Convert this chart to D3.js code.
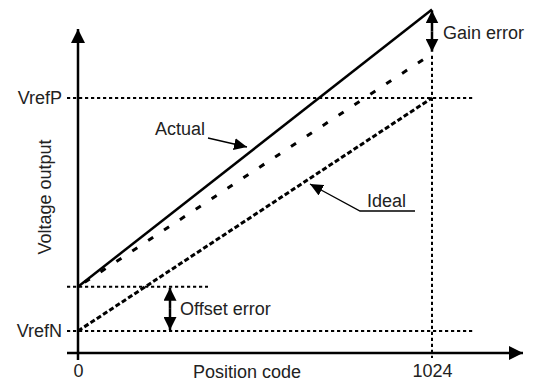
<!DOCTYPE html>
<html>
<head>
<meta charset="utf-8">
<script src="https://cdn.jsdelivr.net/npm/d3@7"></script>
<style>
  body { margin: 0; background: #fff; }
  svg text { font-family: "Liberation Sans", Arial, sans-serif; fill: #222; }
</style>
</head>
<body>
<div id="chart"></div>
<script>
// chart values
var codes = [0, 1024];
var idealLine = [0, 1];          // VrefN .. VrefP
var offsetLine = [0.19, 1.19];   // ideal shifted by offset
var actualLine = [0.19, 1.38];   // offset + gain error
var refLevels = ["VrefN", "VrefP"];
var xTickLabels = ["0", "1024"];

var width = 535, height = 385;

var svg = d3.select("#chart").append("svg")
  .attr("width", width)
  .attr("height", height);

var x = d3.scaleLinear().domain([0, 1024]).range([78, 432]);
var y = d3.scaleLinear().domain([0, 1]).range([331, 98]);

var axisY = y(0) + 22;   // x axis sits a bit below VrefN

var defs = svg.append("defs");
function marker(id, len, wid) {
  defs.append("marker")
    .attr("id", id)
    .attr("markerUnits", "userSpaceOnUse")
    .attr("viewBox", "0 0 " + len + " " + wid)
    .attr("refX", len).attr("refY", wid / 2)
    .attr("markerWidth", len).attr("markerHeight", wid)
    .attr("orient", "auto-start-reverse")
    .append("path")
    .attr("d", "M0,0L" + len + "," + (wid / 2) + "L0," + wid + "Z")
    .attr("fill", "#000");
}
marker("axisHead", 14, 14);
marker("dimHead", 13, 13);
marker("noteHead", 13, 12);

// dotted reference lines
var dotted = svg.append("g").attr("class", "ref-lines")
  .attr("stroke", "#000").attr("stroke-width", 2).attr("stroke-dasharray", "3.2,2.8");

dotted.selectAll(".ref").data(idealLine)
  .enter().append("line")
  .attr("x1", 67).attr("x2", 475)
  .attr("y1", function (d) { return y(d); })
  .attr("y2", function (d) { return y(d); });

dotted.append("line")
  .attr("x1", 67).attr("x2", 208)
  .attr("y1", y(offsetLine[0])).attr("y2", y(offsetLine[0]));

dotted.append("line")
  .attr("x1", x(1024)).attr("x2", x(1024))
  .attr("y1", y(offsetLine[1]) + 2).attr("y2", axisY + 5);

// axes drawn as arrows
svg.append("line")
  .attr("x1", x(0)).attr("x2", x(0))
  .attr("y1", axisY + 7).attr("y2", 29)
  .attr("stroke", "#000").attr("stroke-width", 2.5)
  .attr("marker-end", "url(#axisHead)");

svg.append("line")
  .attr("x1", 67).attr("x2", 523)
  .attr("y1", axisY).attr("y2", axisY)
  .attr("stroke", "#000").attr("stroke-width", 2.5)
  .attr("marker-end", "url(#axisHead)");

var xAxis = d3.axisBottom(x)
  .tickValues(codes)
  .tickFormat(function (d, i) { return xTickLabels[i]; })
  .tickSize(0).tickPadding(11);

var gx = svg.append("g")
  .attr("transform", "translate(0," + axisY + ")")
  .call(xAxis);
gx.select(".domain").remove();
gx.selectAll("text")
  .style("font-family", "Liberation Sans, Arial, sans-serif")
  .style("font-size", "18px").attr("fill", "#222");

var yAxis = d3.axisLeft(y)
  .tickValues(idealLine)
  .tickFormat(function (d, i) { return refLevels[i]; })
  .tickSize(0).tickPadding(16);

var gy = svg.append("g")
  .attr("transform", "translate(" + x(0) + ",0)")
  .call(yAxis);
gy.select(".domain").remove();
gy.selectAll("text")
  .style("font-family", "Liberation Sans, Arial, sans-serif")
  .style("font-size", "18px").attr("fill", "#222");

// transfer lines
function pts(vals) {
  return codes.map(function (c, i) { return [c, vals[i]]; });
}
var line = d3.line()
  .x(function (d) { return x(d[0]); })
  .y(function (d) { return y(d[1]); });

svg.append("path").datum(pts(idealLine))
  .attr("d", line).attr("fill", "none")
  .attr("stroke", "#000").attr("stroke-width", 3)
  .attr("stroke-dasharray", "5,2.5");

svg.append("path").datum(pts(offsetLine))
  .attr("d", line).attr("fill", "none")
  .attr("stroke", "#000").attr("stroke-width", 3)
  .attr("stroke-dasharray", "6,13")
  .attr("stroke-dashoffset", -8);

svg.append("path").datum(pts(actualLine))
  .attr("d", line).attr("fill", "none")
  .attr("stroke", "#000").attr("stroke-width", 2.5);

// gain error arrow
var gx1 = x(1024);
var dim = svg.append("g").attr("stroke", "#000").attr("stroke-width", 2.5);
dim.append("line")
  .attr("x1", gx1).attr("x2", gx1)
  .attr("y1", (y(actualLine[1]) + y(offsetLine[1])) / 2)
  .attr("y2", y(actualLine[1]) + 1)
  .attr("marker-end", "url(#dimHead)");
dim.append("line")
  .attr("x1", gx1).attr("x2", gx1)
  .attr("y1", (y(actualLine[1]) + y(offsetLine[1])) / 2)
  .attr("y2", y(offsetLine[1]) - 2)
  .attr("marker-end", "url(#dimHead)");

// offset error arrow
var ox = 170;
dim.append("line")
  .attr("x1", ox).attr("x2", ox)
  .attr("y1", (y(0) + y(offsetLine[0])) / 2)
  .attr("y2", y(offsetLine[0]) + 1)
  .attr("marker-end", "url(#dimHead)");
dim.append("line")
  .attr("x1", ox).attr("x2", ox)
  .attr("y1", (y(0) + y(offsetLine[0])) / 2)
  .attr("y2", y(0) - 1)
  .attr("marker-end", "url(#dimHead)");

function label(txt, px, py, anchor) {
  return svg.append("text")
    .attr("x", px).attr("y", py)
    .attr("text-anchor", anchor || "start")
    .style("font-size", "18px")
    .text(txt);
}

label("Gain error", 443, 39);
label("Offset error", 180, 315);
label("Position code", 247, 378, "middle");

svg.append("text")
  .attr("transform", "translate(51,197) rotate(-90)")
  .attr("text-anchor", "middle")
  .style("font-size", "18px")
  .text("Voltage output");

// callouts
label("Actual", 155, 135);
svg.append("line")
  .attr("x1", 208).attr("y1", 138)
  .attr("x2", 247).attr("y2", 147)
  .attr("stroke", "#000").attr("stroke-width", 1.3)
  .attr("marker-end", "url(#noteHead)");

label("Ideal", 367, 207);
svg.append("polyline")
  .attr("points", "415,211 360,211 310,184")
  .attr("fill", "none")
  .attr("stroke", "#000").attr("stroke-width", 1.3)
  .attr("marker-end", "url(#noteHead)");
</script>
</body>
</html>
